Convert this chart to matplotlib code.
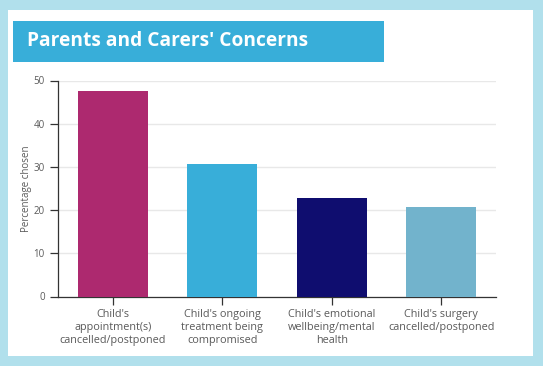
import matplotlib.pyplot as plt
from matplotlib.patches import Rectangle

categories = ["Child's\nappointment(s)\ncancelled/postponed",
              "Child's ongoing\ntreatment being\ncompromised",
              "Child's emotional\nwellbeing/mental\nhealth",
              "Child's surgery\ncancelled/postponed"]
values = [47.6, 30.6, 22.8, 20.8]
colors = ["#ad296f", "#38aed9", "#0f0d6f", "#72b3cc"]
yticks = [0, 10, 20, 30, 40, 50]

W, H = 543, 366
plt.rcParams['font.family'] = ['Open Sans', 'DejaVu Sans']
fig = plt.figure(figsize=(W / 100, H / 100), dpi=100)
fig.patch.set_facecolor("#b1e0ec")

# white panel and title box
fig.patches.append(Rectangle((8 / W, 10 / H), 525 / W, 346 / H, transform=fig.transFigure,
                             facecolor="white", edgecolor="none", zorder=0))
fig.patches.append(Rectangle((13 / W, (H - 62) / H), 371 / W, 41 / H, transform=fig.transFigure,
                             facecolor="#38aed9", edgecolor="none", zorder=1))
fig.text(27 / W, (H - 41.5) / H, "Parents and Carers' Concerns", color="white",
         fontsize=13.8, fontweight="bold", va="center", ha="left", zorder=2)

ax = fig.add_axes([58 / W, (H - 296.5) / H, 438 / W, 216 / H])
ax.set_zorder(3)
ax.set_facecolor("none")
ax.bar(range(len(values)), values, width=0.64, color=colors, zorder=3)
ax.set_xlim(-0.5, len(values) - 0.5)
ax.set_ylim(0, 50)
ax.set_yticks(yticks)
ax.set_xticks(range(len(categories)))
ax.set_xticklabels(categories, fontsize=7.8, color="#5a5a5a", linespacing=1.25)
ax.tick_params(axis="y", labelsize=7, labelcolor="#5a5a5a", length=6, color="#333333", width=0.9)
ax.tick_params(axis="x", length=6, color="#333333", width=0.9, pad=3)
ax.grid(axis="y", color="#e8e8e8", linewidth=1, zorder=0)
for s in ["top", "right"]:
    ax.spines[s].set_visible(False)
for s in ["left", "bottom"]:
    ax.spines[s].set_color("#333333")
    ax.spines[s].set_linewidth(0.9)
ax.set_ylabel("Percentage chosen", fontsize=7, color="#5a5a5a", labelpad=1)

fig.savefig("out.png", dpi=100)
